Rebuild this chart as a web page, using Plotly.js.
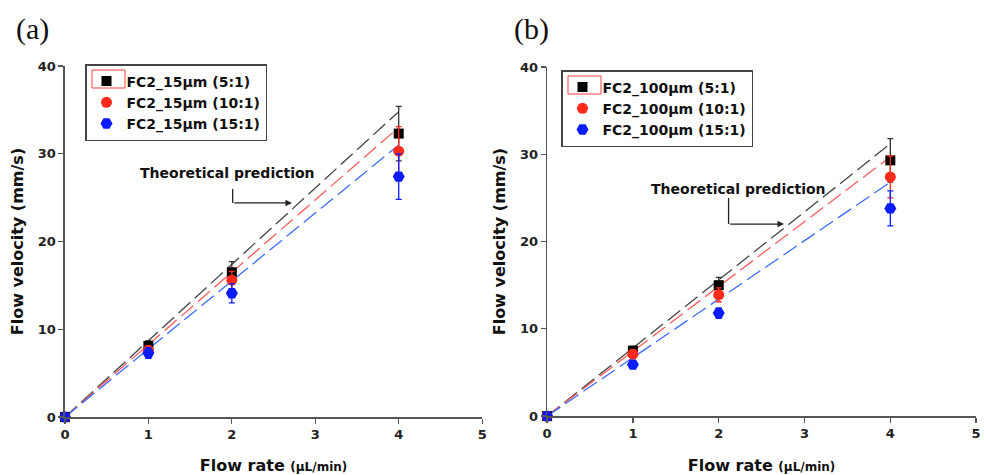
<!DOCTYPE html>
<html><head><meta charset="utf-8">
<script src="https://cdn.plot.ly/plotly-3.0.1.min.js"></script>
<style>html,body{margin:0;padding:0;background:#fff}#chart{width:984px;height:475px}</style>
</head><body><div id="chart"></div>
<script>
// ---- data ----
const flowRate = [0, 1, 2, 4];
const theoryX = [0, 4];

// panel (a) FC2_15µm
const a_names = ['FC2_15µm (5:1)', 'FC2_15µm (10:1)', 'FC2_15µm (15:1)'];
const a_black = [0, 8.1, 16.5, 32.3];
const a_black_err = [0, 0.6, 1.2, 3.1];
const a_red = [0, 7.6, 15.6, 30.3];
const a_red_err = [0, 0.5, 1.0, 2.8];
const a_blue = [0, 7.3, 14.1, 27.4];
const a_blue_err = [0, 0.6, 1.1, 2.6];
const a_theory_black = [0, 34.8];
const a_theory_red = [0, 33.0];
const a_theory_blue = [0, 31.0];

// panel (b) FC2_100µm
const b_names = ['FC2_100µm (5:1)', 'FC2_100µm (10:1)', 'FC2_100µm (15:1)'];
const b_black = [0, 7.5, 15.0, 29.3];
const b_black_err = [0, 0.5, 0.9, 2.5];
const b_red = [0, 7.1, 13.9, 27.4];
const b_red_err = [0, 0.5, 0.8, 2.4];
const b_blue = [0, 5.9, 11.8, 23.8];
const b_blue_err = [0, 0.4, 0.6, 2.0];
const b_theory_black = [0, 31.2];
const b_theory_red = [0, 29.7];
const b_theory_blue = [0, 26.8];

const xTicks = [0, 1, 2, 3, 4, 5];
const yTicks = [0, 10, 20, 30, 40];

// ---- styles ----
const colBlack = '#000000', colRed = '#ff2a1a', colBlue = '#0a1cff';
const lineBlack = '#444444', lineRed = '#ff5a5a', lineBlue = '#3a6cff';
const FONT = 'DejaVu Sans, Liberation Sans, Arial, sans-serif';

function theory(x, y, color, xa, ya) {
  return {x: x, y: y, xaxis: xa, yaxis: ya, mode: 'lines', showlegend: false, hoverinfo: 'skip',
    line: {color: color, width: 1.3, dash: '16px,6px'}};
}
function pts(y, err, name, color, symbol, size, xa, ya, leg) {
  return {x: flowRate, y: y, xaxis: xa, yaxis: ya, mode: 'markers', name: name, legend: leg,
    cliponaxis: false,
    marker: {color: color, symbol: symbol, size: size},
    error_y: {type: 'data', array: err, visible: true, color: color === colBlack ? '#333' : color, thickness: 1.3, width: 3}};
}

const data = [
  theory(theoryX, a_theory_black, lineBlack, 'x', 'y'),
  theory(theoryX, a_theory_red, lineRed, 'x', 'y'),
  theory(theoryX, a_theory_blue, lineBlue, 'x', 'y'),
  pts(a_black, a_black_err, a_names[0], colBlack, 'square', 10, 'x', 'y', 'legend'),
  pts(a_red, a_red_err, a_names[1], colRed, 'circle', 11, 'x', 'y', 'legend'),
  pts(a_blue, a_blue_err, a_names[2], colBlue, 'hexagon2', 12, 'x', 'y', 'legend'),
  theory(theoryX, b_theory_black, lineBlack, 'x2', 'y2'),
  theory(theoryX, b_theory_red, lineRed, 'x2', 'y2'),
  theory(theoryX, b_theory_blue, lineBlue, 'x2', 'y2'),
  pts(b_black, b_black_err, b_names[0], colBlack, 'square', 10, 'x2', 'y2', 'legend2'),
  pts(b_red, b_red_err, b_names[1], colRed, 'circle', 11, 'x2', 'y2', 'legend2'),
  pts(b_blue, b_blue_err, b_names[2], colBlue, 'hexagon2', 12, 'x2', 'y2', 'legend2')
];

const tickFont = {family: FONT, size: 13, color: '#222', weight: 'bold'};
const titleFont = {family: FONT, size: 16, color: '#111', weight: 'bold'};
function xaxis(domain, anchor) {
  return {domain: domain, anchor: anchor, range: [0, 5], tickvals: xTicks, ticks: 'outside', ticklen: 5,
    tickwidth: 1.3, tickcolor: '#555', showline: true, linecolor: '#555', linewidth: 1.5,
    showgrid: false, zeroline: false, tickfont: tickFont, ticklabeloverflow: 'allow',
    title: {text: 'Flow rate <span style="font-size:12px">(µL/min)</span>', font: titleFont, standoff: 20}};
}
function yaxis(domain, anchor) {
  return {domain: domain, anchor: anchor, range: [0, 40], tickvals: yTicks, ticks: 'outside', ticklen: 5,
    tickwidth: 1.3, tickcolor: '#555', showline: true, linecolor: '#555', linewidth: 1.5,
    showgrid: false, zeroline: false, tickfont: tickFont,
    title: {text: 'Flow velocity (mm/s)', font: titleFont, standoff: 10}};
}
const legStyle = {bgcolor: 'rgba(255,255,255,0)', bordercolor: '#444', borderwidth: 1.5,
  font: {family: FONT, size: 14, color: '#111', weight: 'bold'}, tracegroupgap: 0,
  xanchor: 'left', yanchor: 'top', itemwidth: 30};

const annFont = {family: FONT, size: 14, color: '#111', weight: 'bold'};
const layout = {
  width: 984, height: 475, margin: {l: 0, r: 0, t: 0, b: 0},
  paper_bgcolor: '#fff', plot_bgcolor: '#fff',
  xaxis: xaxis([0.066, 0.49], 'y'),
  yaxis: yaxis([0.122, 0.861], 'x'),
  xaxis2: xaxis([0.556, 0.992], 'y2'),
  yaxis2: yaxis([0.124, 0.859], 'x2'),
  legend: Object.assign({x: 85/984, y: 1 - 64/475}, legStyle),
  legend2: Object.assign({x: 561/984, y: 1 - 70/475}, legStyle),
  annotations: [
    {xref: 'paper', yref: 'paper', x: 14/984, y: 1 - 29/475, xanchor: 'left', yanchor: 'middle', showarrow: false,
     text: '(a)', font: {family: 'Liberation Serif, Times New Roman, serif', size: 30, color: '#111'}},
    {xref: 'paper', yref: 'paper', x: 512/984, y: 1 - 29/475, xanchor: 'left', yanchor: 'middle', showarrow: false,
     text: '(b)', font: {family: 'Liberation Serif, Times New Roman, serif', size: 30, color: '#111'}},
    {xref: 'x', yref: 'y', x: 1.95, y: 27.8, showarrow: false, text: 'Theoretical prediction', font: annFont},
    {xref: 'x', yref: 'y', x: 2.72, y: 24.4, axref: 'x', ayref: 'y', ax: 2.01, ay: 24.4,
     showarrow: true, arrowhead: 2, arrowsize: 1, arrowwidth: 1.3, arrowcolor: '#222', text: ''},
    {xref: 'x2', yref: 'y2', x: 2.23, y: 26.0, showarrow: false, text: 'Theoretical prediction', font: annFont},
    {xref: 'x2', yref: 'y2', x: 2.76, y: 22.0, axref: 'x2', ayref: 'y2', ax: 2.115, ay: 22.0,
     showarrow: true, arrowhead: 2, arrowsize: 1, arrowwidth: 1.3, arrowcolor: '#222', text: ''}
  ],
  shapes: [
    {type: 'line', xref: 'x', yref: 'y', x0: 2.01, x1: 2.01, y0: 26.0, y1: 24.4, line: {color: '#222', width: 1.3}},
    {type: 'line', xref: 'x2', yref: 'y2', x0: 2.115, x1: 2.115, y0: 25.0, y1: 22.0, line: {color: '#222', width: 1.3}},
    {type: 'rect', xref: 'paper', yref: 'paper', x0: 92/984, x1: 125/984, y0: 1 - 88/475, y1: 1 - 70/475,
     line: {color: '#ff4040', width: 1}},
    {type: 'rect', xref: 'paper', yref: 'paper', x0: 568/984, x1: 601/984, y0: 1 - 94/475, y1: 1 - 76/475,
     line: {color: '#ff4040', width: 1}}
  ]
};
Plotly.newPlot('chart', data, layout, {staticPlot: true, displayModeBar: false});
</script></body></html>
